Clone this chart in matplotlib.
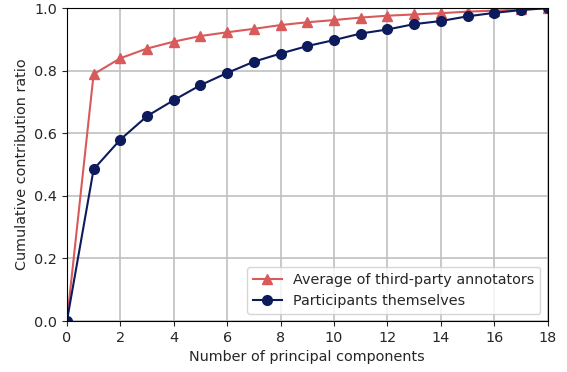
import matplotlib
matplotlib.use("Agg")
import matplotlib.pyplot as plt

components = list(range(19))
annotators = [0.0, 0.789, 0.840, 0.871, 0.893, 0.911, 0.923, 0.934, 0.946, 0.955,
              0.962, 0.970, 0.976, 0.980, 0.984, 0.989, 0.992, 0.996, 1.0]
participants = [0.0, 0.485, 0.580, 0.655, 0.706, 0.754, 0.793, 0.829, 0.855, 0.879,
                0.898, 0.919, 0.932, 0.949, 0.959, 0.974, 0.985, 0.994, 1.0]

red = '#d95a5a'
navy = '#0d1a5c'

plt.rcParams['font.size'] = 10.4
plt.rcParams['text.color'] = '#262626'
plt.rcParams['axes.labelcolor'] = '#262626'
plt.rcParams['xtick.color'] = '#262626'
plt.rcParams['ytick.color'] = '#262626'

fig, ax = plt.subplots(figsize=(5.67, 3.72), dpi=100)
ax.plot(components, annotators, color=red, marker='^', markersize=7, linewidth=1.5,
        label='Average of third-party annotators')
ax.plot(components, participants, color=navy, marker='o', markersize=7, linewidth=1.5,
        label='Participants themselves')

ax.set_xlim(0, 18)
ax.set_ylim(0, 1.0)
ax.set_xticks(range(0, 19, 2))
ax.set_yticks([0.0, 0.2, 0.4, 0.6, 0.8, 1.0])
ax.grid(True, color='#c0c0c0', linewidth=1.2)
ax.set_axisbelow(True)
ax.set_xlabel('Number of principal components')
ax.set_ylabel('Cumulative contribution ratio')
ax.legend(loc='lower right', fontsize=10.4)

plt.subplots_adjust(left=0.118, right=0.966, top=0.978, bottom=0.137)
fig.savefig('out.png', dpi=100)
